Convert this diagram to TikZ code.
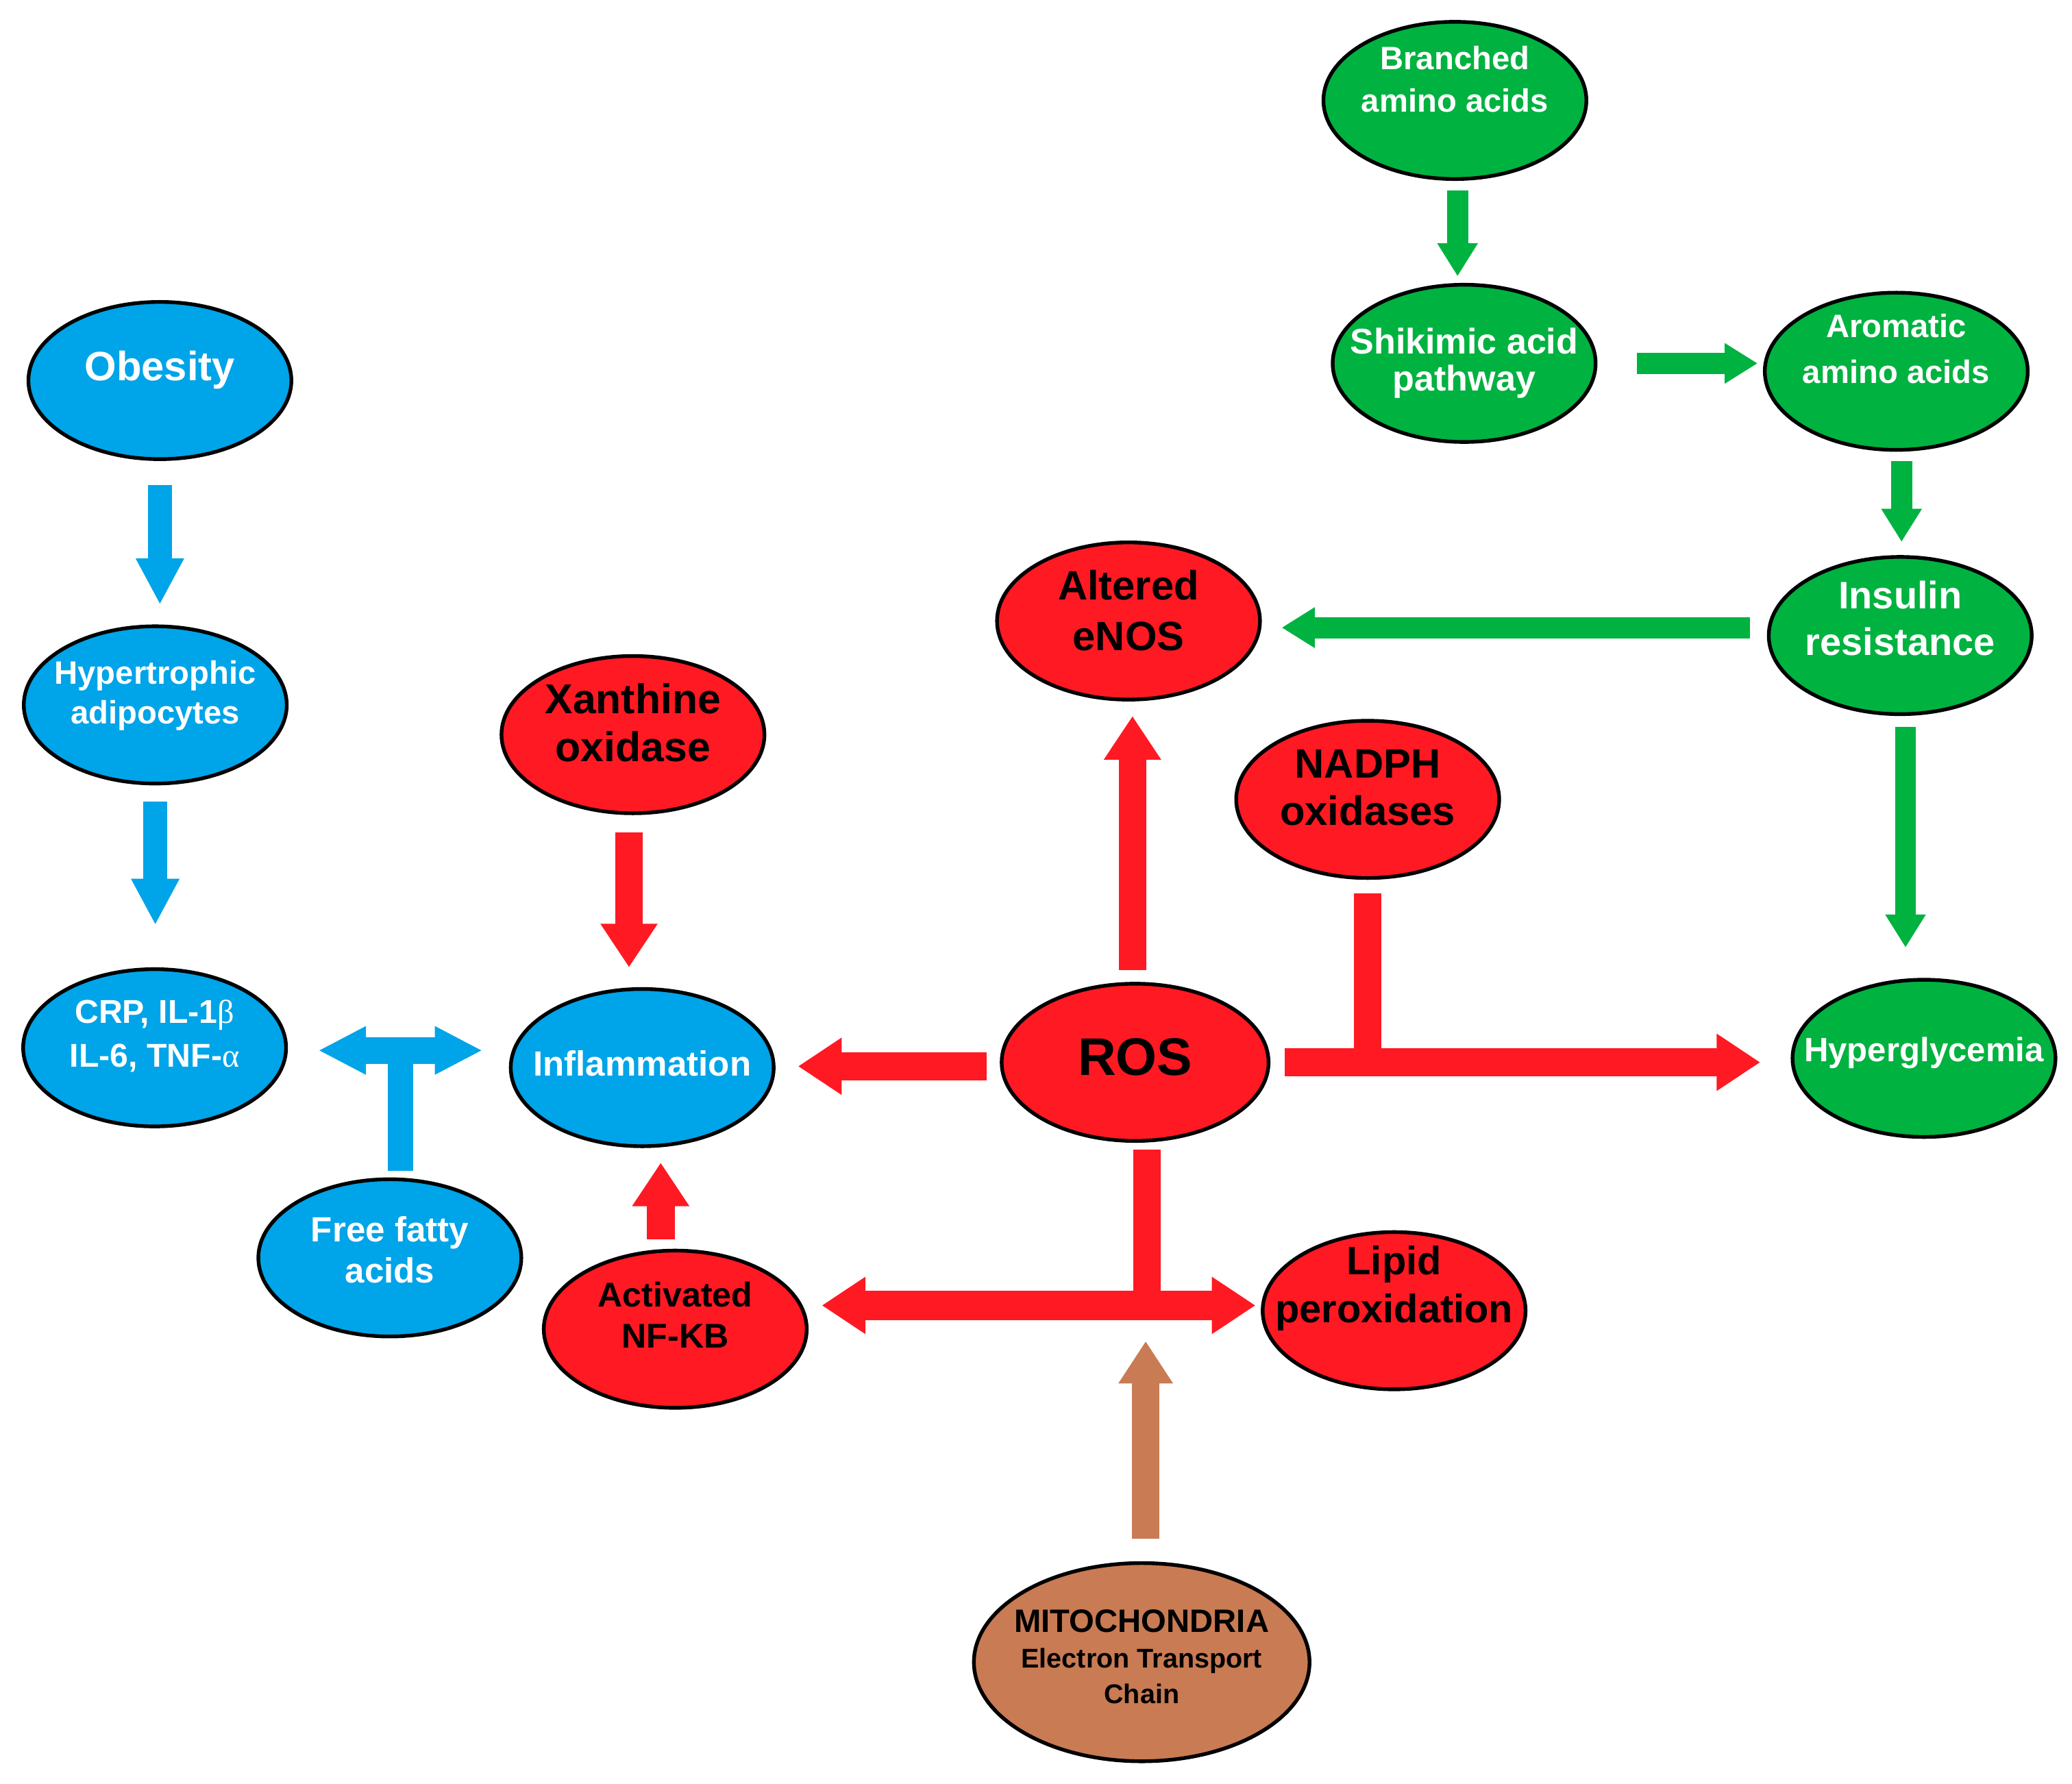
\documentclass[tikz,border=0pt]{standalone}
\usepackage{fontspec}
\setmainfont{Liberation Sans}
\newfontfamily\greco{Liberation Serif}
\usetikzlibrary{arrows.meta}
\usetikzlibrary{shapes.geometric}

\definecolor{azzurro}{RGB}{0,164,232}
\definecolor{rosso}{RGB}{255,25,35}
\definecolor{verde}{RGB}{0,178,64}
\definecolor{marrone}{RGB}{201,123,83}
\newcommand{\fsz}[2]{\bfseries\fontsize{#1}{#2}\selectfont}

\begin{document}
\begin{tikzpicture}[x=1pt,y=-1pt,
nodo/.style={draw=black,line width=2.8pt,ellipse,inner sep=0pt,minimum width=199pt,minimum height=119pt},
blu/.style={nodo,fill=azzurro},
ros/.style={nodo,fill=rosso},
ver/.style={nodo,fill=verde},
mar/.style={nodo,fill=marrone,minimum width=254pt,minimum height=150pt},
testoW/.style={text=white,align=center,inner sep=0pt},
testoK/.style={text=black,align=center,inner sep=0pt},
frecciaB/.style={draw=azzurro,line width=18pt,-{Triangle[width=34pt,length=35pt]}},
frecciaBB/.style={draw=azzurro,line width=20pt,{Triangle[width=34pt,length=36pt]}-{Triangle[width=34pt,length=36pt]}},
lineaB/.style={draw=azzurro,line width=19pt},
frecciaR/.style={draw=rosso,line width=21pt,-{Triangle[width=41pt,length=33pt]}},
frecciaRR/.style={draw=rosso,line width=22pt,{Triangle[width=41pt,length=33pt]}-{Triangle[width=41pt,length=33pt]}},
lineaR/.style={draw=rosso,line width=21pt},
frecciaV/.style={draw=verde,line width=16pt,-{Triangle[width=29pt,length=25pt]}},
frecciaM/.style={draw=marrone,line width=21pt,-{Triangle[width=39pt,length=32pt]}}
]
\useasboundingbox (0,0) rectangle (1568,1350);
%-- blu
\node[blu](obesity) at (121,288){};
\node[testoW,font=\fsz{31}{36}](tObesity) at ([yshift=8pt]obesity.center){Obesity};
\node[blu](hypertro) at (117.5,533.5){};
\node[testoW,font=\fsz{24.5}{30}](tHypertro) at ([yshift=7pt]hypertro.center){Hypertrophic\\adipocytes};
\node[blu](crp) at (117,793){};
\node[testoW,font=\fsz{25}{33}](tCrp) at ([yshift=9pt]crp.center){CRP, IL-1{\greco\mdseries β}\\IL-6, TNF-{\greco\mdseries α}};
\node[blu](inflam) at (486,808){};
\node[testoW,font=\fsz{26.5}{31}](tInflam) at ([yshift=3pt]inflam.center){Inflammation};
\node[blu](ffa) at (295,952){};
\node[testoW,font=\fsz{26.5}{31}](tFfa) at ([yshift=6pt]ffa.center){Free fatty\\acids};
%-- rosso
\node[ros](nfkb) at (511,1006){};
\node[testoK,font=\fsz{26}{31}](tNfkb) at ([yshift=11pt]nfkb.center){Activated\\NF-KB};
\node[ros](xanthine) at (479,556){};
\node[testoK,font=\fsz{31.5}{36}](tXanthine) at ([yshift=9pt]xanthine.center){Xanthine\\oxidase};
\node[ros](enos) at (854,470){};
\node[testoK,font=\fsz{31}{38}](tEnos) at ([yshift=8pt]enos.center){Altered\\eNOS};
\node[ros](nadph) at (1035,605){};
\node[testoK,font=\fsz{31}{36}](tNadph) at ([yshift=9pt]nadph.center){NADPH\\oxidases};
\node[ros,minimum width=202pt](ros) at (859,804){};
\node[testoK,font=\fsz{40}{46}](tRos) at ([yshift=4pt]ros.center){ROS};
\node[ros](lipid) at (1055,992){};
\node[testoK,font=\fsz{30}{36}](tLipid) at ([yshift=17pt]lipid.center){Lipid\\peroxidation};
%-- marrone
\node[mar](mito) at (864,1258){};
\node[testoK,font=\fsz{20.5}{27}](tMito) at ([yshift=4pt]mito.center){{\fontsize{24.5}{28}\selectfont MITOCHONDRIA}\\Electron Transport\\Chain};
%-- verde
\node[ver](branched) at (1101,76){};
\node[testoW,font=\fsz{24.5}{32}](tBranched) at ([yshift=16pt]branched.center){Branched\\amino acids};
\node[ver](shikimic) at (1108,275){};
\node[testoW,font=\fsz{27}{28}](tShikimic) at (shikimic.center){Shikimic acid\\pathway};
\node[ver](aromatic) at (1435,281){};
\node[testoW,font=\fsz{24.5}{35}](tAromatic) at ([yshift=17pt]aromatic.center){Aromatic\\amino acids};
\node[ver](insulin) at (1438,481){};
\node[testoW,font=\fsz{29}{35}](tInsulin) at ([yshift=13pt]insulin.center){Insulin\\resistance};
\node[ver](hyperg) at (1456,801){};
\node[testoW,font=\fsz{25.5}{30}](tHyperg) at ([yshift=4pt]hyperg.center){Hyperglycemia};
%----
\coordinate (jB) at (303,795);
\coordinate (jR) at (868,988);
%-- frecce blu
\draw[frecciaB,shorten <=18pt,shorten >=15pt] (obesity.south) -- (obesity.south |- hypertro.north);
\draw[frecciaB,shorten <=12pt,shorten >=32pt] (hypertro.south) -- (hypertro.south |- crp.north);
\draw[lineaB,shorten <=5pt] (ffa.north -| jB) -- (jB);
\draw[frecciaBB,shorten <=23pt,shorten >=20pt] (crp.east |- jB) -- (inflam.west |- jB);
%-- frecce rosse
\draw[frecciaR,shorten <=13pt,shorten >=15pt] ([xshift=-3pt]xanthine.south) -- ([xshift=-3pt]xanthine.south |- inflam.north);
\draw[frecciaR,shorten <=10pt,shorten >=17pt] ([yshift=-3pt]ros.west) -- ([yshift=-3pt]ros.west -| inflam.east);
\draw[frecciaR,shorten <=9pt,shorten >=11pt] ([xshift=-2pt]ros.north) -- ([xshift=-2pt]ros.north |- enos.south);
\draw[frecciaR,shorten <=11pt,shorten >=23pt] (ros.east) -- (ros.east -| hyperg.west);
\draw[lineaR,shorten <=10pt] (nadph.south) -- (nadph.south |- ros.east);
\draw[lineaR,shorten <=5pt] (ros.south -| jR) -- (jR);
\draw[frecciaRR,shorten <=10pt,shorten >=4pt] (nfkb.east |- jR) -- (lipid.west |- jR);
\draw[frecciaR,shorten <=7pt,shorten >=11pt] ([xshift=-11pt]nfkb.north) -- ([xshift=-11pt]nfkb.north |- inflam.south);
%-- freccia marrone
\draw[frecciaM,shorten <=17pt,shorten >=27pt] ([xshift=3pt]mito.north) -- ([xshift=3pt]mito.north |- jR);
%-- frecce verdi
\draw[frecciaV,shorten <=7pt,shorten >=5pt] ([xshift=2pt]branched.south) -- ([xshift=2pt]branched.south |- shikimic.north);
\draw[frecciaV,shorten <=30pt,shorten >=4pt] (shikimic.east) -- (shikimic.east -| aromatic.west);
\draw[frecciaV,shorten <=7pt,shorten >=10pt] ([xshift=4pt]aromatic.south) -- ([xshift=4pt]aromatic.south |- insulin.north);
\draw[frecciaV,shorten <=13pt,shorten >=15pt] ([yshift=6pt]insulin.west) -- ([yshift=6pt]insulin.west -| enos.east);
\draw[frecciaV,shorten <=8pt,shorten >=23pt] ([xshift=4pt]insulin.south) -- ([xshift=4pt]insulin.south |- hyperg.north);
\end{tikzpicture}
\end{document}
